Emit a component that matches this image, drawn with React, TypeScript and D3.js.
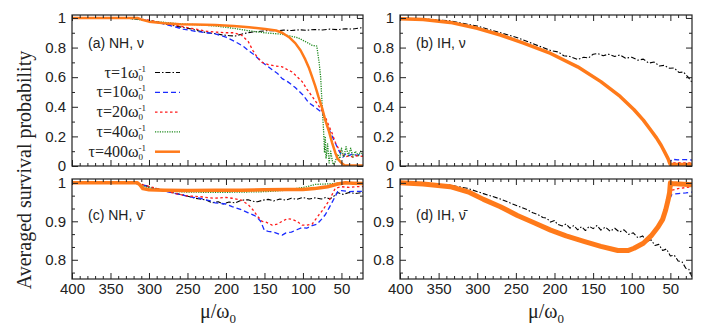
import { useEffect, useRef } from 'react';
import * as d3 from 'd3';

type Pt = [number, number];

// axis values
const xDomain = [400, 22];
const xTicks = [400, 350, 300, 250, 200, 150, 100, 50];
const xMinor = d3.range(30, 400, 10).filter(v => v % 50 !== 0);
const yTicksTop = [0, 0.2, 0.4, 0.6, 0.8, 1];
const yMinorTop = [0.1, 0.3, 0.5, 0.7, 0.9];
const yTicksBottom = [0.8, 0.9, 1];
const yMinorBottom = [0.7667, 0.8333, 0.8667, 0.9333, 0.9667];

const tauValues = ['1', '10', '20', '40', '400'];

// (a) NH, neutrinos  -- [mu/omega0, survival probability]
const aTau1: Pt[] = [[400, 1], [340, 1], [320, 0.995], [305, 0.985], [290, 0.97], [275, 0.955], [260, 0.94], [245, 0.925], [235, 0.912], [225, 0.9], [215, 0.895], [205, 0.886], [195, 0.88], [188, 0.878], [180, 0.89], [172, 0.9], [165, 0.905], [155, 0.91], [145, 0.915], [135, 0.913], [125, 0.918], [115, 0.915], [105, 0.92], [95, 0.917], [85, 0.922], [75, 0.919], [65, 0.925], [55, 0.921], [45, 0.927], [35, 0.925], [22, 0.935]];
const aTau10: Pt[] = [[400, 1], [330, 1], [315, 0.995], [300, 0.98], [285, 0.965], [270, 0.945], [256, 0.925], [240, 0.91], [225, 0.9], [214, 0.893], [200, 0.87], [188, 0.84], [178, 0.81], [171, 0.78], [163, 0.75], [155, 0.71], [149, 0.685], [140, 0.65], [133, 0.625], [127, 0.59], [120, 0.57], [110, 0.53], [100, 0.48], [93, 0.43], [85, 0.4], [75, 0.36], [67, 0.26], [62, 0.2], [58, 0.155], [52, 0.09], [48, 0.06], [44, 0.085], [40, 0.07], [35, 0.085], [30, 0.07], [25, 0.082], [22, 0.075]];
const aTau20: Pt[] = [[400, 1], [330, 1], [315, 0.995], [300, 0.985], [285, 0.97], [270, 0.955], [255, 0.94], [240, 0.925], [225, 0.91], [214, 0.905], [200, 0.9], [190, 0.9], [180, 0.885], [171, 0.84], [165, 0.78], [160, 0.74], [153, 0.7], [145, 0.685], [135, 0.675], [127, 0.67], [120, 0.65], [114, 0.635], [107, 0.6], [101, 0.57], [95, 0.52], [88, 0.47], [80, 0.41], [75, 0.37], [70, 0.32], [67, 0.28], [62, 0.22], [58, 0.16], [53, 0.11], [49, 0.08], [45, 0.06], [40, 0.07], [35, 0.06], [30, 0.07], [22, 0.065]];
const aTau40: Pt[] = [[400, 1], [330, 1], [315, 0.99], [300, 0.98], [280, 0.97], [260, 0.96], [240, 0.955], [214, 0.946], [190, 0.93], [171, 0.914], [150, 0.9], [127, 0.89], [106, 0.865], [93, 0.83], [88, 0.815], [82, 0.81], [79, 0.7], [77, 0.6], [75, 0.4], [73, 0.22], [72, 0.09], [71, 0.2], [70, 0.05], [68, 0.15], [66, 0.02], [64, 0.1], [61, 0.01], [58, 0.03], [55, 0.08], [52, 0.05], [50, 0.12], [47, 0.06], [44, 0.13], [41, 0.07], [38, 0.12], [35, 0.06], [32, 0.1], [28, 0.07], [25, 0.1], [22, 0.07]];
const aTau400: Pt[] = [[400, 1], [315, 1], [310, 0.99], [300, 0.975], [280, 0.965], [260, 0.958], [240, 0.955], [214, 0.952], [190, 0.945], [170, 0.937], [149, 0.926], [135, 0.915], [127, 0.9], [118, 0.87], [110, 0.83], [103, 0.78], [97, 0.72], [92, 0.66], [88, 0.6], [84, 0.54], [80, 0.47], [75, 0.39], [71, 0.31], [66, 0.23], [62, 0.155], [58, 0.09], [55, 0.05], [50, 0.02], [46, 0.005], [40, 0.003], [22, 0.003]];

// (b) IH, neutrinos
const bCommon: Pt[] = [[400, 0.995], [370, 0.99], [335, 0.97], [300, 0.93], [270, 0.885], [240, 0.83], [205, 0.76], [170, 0.67], [140, 0.57], [115, 0.47], [97, 0.38], [85, 0.31], [75, 0.24], [68, 0.19], [62, 0.14], [57, 0.09], [53, 0.05], [51, 0.02]];
const bTail10: Pt[] = [[50, 0.03], [48, 0.045], [40, 0.042], [30, 0.043], [22, 0.04]];
const bTail20: Pt[] = [[50, 0.02], [40, 0.022], [22, 0.02]];
const bTail40: Pt[] = [[50, 0.015], [22, 0.012]];
const bTail400: Pt[] = [[50, 0.01], [22, 0.01]];
const bTau1: Pt[] = [[400, 0.995], [360, 0.99], [335, 0.98], [300, 0.945], [270, 0.9], [250, 0.87], [230, 0.83], [215, 0.8], [205, 0.78], [195, 0.77], [188, 0.745], [180, 0.74], [170, 0.72], [162, 0.735], [156, 0.73], [150, 0.755], [144, 0.76], [137, 0.745], [130, 0.755], [122, 0.74], [115, 0.75], [108, 0.728], [100, 0.735], [92, 0.715], [85, 0.722], [78, 0.695], [71, 0.702], [64, 0.675], [58, 0.68], [51, 0.66], [45, 0.662], [39, 0.632], [33, 0.635], [27, 0.6], [22, 0.565]];

// (c) NH, antineutrinos
const cTau1: Pt[] = [[400, 1], [320, 1], [310, 0.997], [300, 0.99], [290, 0.985], [282, 0.981], [270, 0.975], [255, 0.968], [240, 0.96], [234, 0.958], [225, 0.955], [218, 0.948], [210, 0.951], [204, 0.945], [196, 0.95], [188, 0.948], [180, 0.955], [171, 0.956], [165, 0.952], [159, 0.951], [152, 0.955], [145, 0.957], [138, 0.953], [130, 0.958], [122, 0.955], [115, 0.96], [108, 0.957], [100, 0.962], [92, 0.958], [84, 0.961], [76, 0.958], [70, 0.962], [65, 0.958], [60, 0.965], [55, 0.975], [48, 0.97], [40, 0.975], [32, 0.972], [22, 0.975]];
const cTau10: Pt[] = [[400, 1], [320, 1], [308, 0.995], [295, 0.985], [277, 0.977], [260, 0.97], [245, 0.963], [234, 0.96], [220, 0.953], [214, 0.948], [200, 0.945], [192, 0.938], [180, 0.93], [171, 0.922], [161, 0.913], [155, 0.9], [150, 0.876], [145, 0.874], [138, 0.872], [130, 0.866], [127, 0.864], [122, 0.87], [115, 0.872], [108, 0.878], [101, 0.884], [95, 0.882], [88, 0.889], [82, 0.892], [76, 0.905], [71, 0.917], [66, 0.935], [62, 0.95], [58, 0.965], [55, 0.977], [50, 0.98], [40, 0.977], [30, 0.978], [22, 0.978]];
const cTau20: Pt[] = [[400, 1], [320, 1], [308, 0.995], [295, 0.988], [280, 0.98], [265, 0.972], [250, 0.966], [234, 0.964], [215, 0.96], [200, 0.962], [192, 0.96], [180, 0.955], [171, 0.943], [165, 0.93], [159, 0.913], [153, 0.9], [148, 0.898], [140, 0.89], [133, 0.893], [127, 0.9], [120, 0.907], [114, 0.905], [108, 0.9], [101, 0.89], [95, 0.89], [88, 0.893], [80, 0.915], [74, 0.93], [67, 0.951], [62, 0.97], [58, 0.986], [50, 0.99], [40, 0.988], [30, 0.99], [22, 0.99]];
const cTau40: Pt[] = [[400, 1], [320, 1], [305, 0.99], [290, 0.983], [270, 0.978], [250, 0.976], [214, 0.975], [180, 0.976], [150, 0.977], [127, 0.98], [106, 0.986], [95, 0.99], [84, 0.996], [70, 0.997], [62, 0.998], [50, 1.0], [22, 1.0]];
const cTau400: Pt[] = [[400, 1], [315, 1], [312, 0.995], [308, 0.985], [300, 0.982], [280, 0.981], [250, 0.98], [214, 0.981], [180, 0.981], [150, 0.982], [120, 0.983], [100, 0.983], [85, 0.985], [75, 0.988], [68, 0.99], [62, 0.993], [55, 0.997], [45, 1.0], [35, 0.999], [22, 0.998]];

// (d) IH, antineutrinos
const dCommon: Pt[] = [[400, 1], [370, 0.997], [335, 0.99], [310, 0.975], [292, 0.957], [270, 0.938], [248, 0.915], [225, 0.895], [205, 0.877], [185, 0.862], [162, 0.848], [140, 0.835], [118, 0.824], [105, 0.824], [97, 0.83], [85, 0.843], [75, 0.862], [66, 0.885], [60, 0.905], [56, 0.93], [53, 0.955], [51, 0.975]];
const dTail10: Pt[] = [[50, 0.962], [48, 0.97], [40, 0.972], [30, 0.974], [22, 0.976]];
const dTail20: Pt[] = [[50, 0.98], [40, 0.985], [22, 0.99]];
const dTail40: Pt[] = [[50, 0.99], [45, 0.995], [22, 0.995]];
const dTail400: Pt[] = [[50, 1.0], [48, 0.998], [22, 0.995]];
const dTau1: Pt[] = [[400, 1], [360, 0.998], [335, 0.994], [313, 0.986], [292, 0.972], [270, 0.958], [248, 0.94], [235, 0.93], [228, 0.922], [222, 0.918], [215, 0.91], [210, 0.908], [205, 0.898], [200, 0.902], [196, 0.892], [190, 0.888], [185, 0.893], [180, 0.882], [175, 0.889], [170, 0.878], [165, 0.886], [160, 0.876], [155, 0.887], [150, 0.881], [145, 0.889], [140, 0.877], [134, 0.885], [128, 0.874], [122, 0.882], [116, 0.872], [110, 0.878], [104, 0.866], [98, 0.87], [92, 0.857], [86, 0.862], [80, 0.848], [75, 0.852], [70, 0.837], [65, 0.84], [60, 0.824], [55, 0.828], [50, 0.81], [45, 0.812], [40, 0.797], [35, 0.795], [30, 0.778], [26, 0.775], [22, 0.755]];

const styles = [
    { color: '#000000', width: 1.1, dash: '5,2,1.5,2' },
    { color: '#1a2bff', width: 1.3, dash: '5,3' },
    { color: '#ff1a1a', width: 1.3, dash: '2.5,2.5' },
    { color: '#1f8a1f', width: 1.3, dash: '1.2,1.2' },
    { color: '#ff7a1a', width: 2.5, dash: null },
];

const panels = [
    { id: 'a', label: '(a) NH, \u03BD', left: 72, right: 363, top: 15, bottom: 166, yDomain: [0, 1.02], yTicks: yTicksTop, yMinor: yMinorTop, xLabels: false, band: 2.5,
      series: [aTau1, aTau10, aTau20, aTau40, aTau400] },
    { id: 'b', label: '(b) IH, \u03BD', left: 400, right: 692, top: 15, bottom: 166, yDomain: [0, 1.02], yTicks: yTicksTop, yMinor: yMinorTop, xLabels: false, band: 3.5,
      series: [bTau1, [...bCommon, ...bTail10], [...bCommon, ...bTail20], [...bCommon, ...bTail40], [...bCommon, ...bTail400]] },
    { id: 'c', label: '(c) NH, \u03BD\u0304', left: 72, right: 363, top: 179, bottom: 279, yDomain: [0.75, 1.01], yTicks: yTicksBottom, yMinor: yMinorBottom, xLabels: true, band: 3.5,
      series: [cTau1, cTau10, cTau20, cTau40, cTau400] },
    { id: 'd', label: '(d) IH, \u03BD\u0304', left: 400, right: 692, top: 179, bottom: 279, yDomain: [0.75, 1.01], yTicks: yTicksBottom, yMinor: yMinorBottom, xLabels: true, band: 5,
      series: [dTau1, [...dCommon, ...dTail10], [...dCommon, ...dTail20], [...dCommon, ...dTail40], [...dCommon, ...dTail400]] },
];

const sans = '"Liberation Sans", Arial, sans-serif';
const serif = '"Liberation Serif", "Times New Roman", serif';

const App = () => {
    const svgRef = useRef<SVGSVGElement>(null);

    useEffect(() => {
        const svg = d3.select(svgRef.current);
        svg.selectAll('*').remove();
        svg.attr('width', 706).attr('height', 332);
        svg.append('rect').attr('width', 706).attr('height', 332).attr('fill', 'white');

        panels.forEach(p => {
            const x = d3.scaleLinear().domain(xDomain).range([p.left, p.right]);
            const y = d3.scaleLinear().domain(p.yDomain).range([p.bottom, p.top]);
            const g = svg.append('g');

            const clipId = 'clip-' + p.id;
            g.append('clipPath').attr('id', clipId).append('rect')
                .attr('x', p.left).attr('y', p.top)
                .attr('width', p.right - p.left).attr('height', p.bottom - p.top);

            // curves
            const line = d3.line<Pt>().x(d => x(d[0])).y(d => y(d[1]));
            p.series.forEach((s, i) => {
                const st = styles[i];
                g.append('path')
                    .datum(s)
                    .attr('d', line)
                    .attr('fill', 'none')
                    .attr('stroke', st.color)
                    .attr('stroke-width', i === 4 ? p.band : st.width)
                    .attr('stroke-dasharray', st.dash)
                    .attr('stroke-linejoin', 'round')
                    .attr('clip-path', `url(#${clipId})`);
            });

            // ticks (inward, mirrored)
            const clean = (sel: any) => sel.select('.domain').remove();
            const bottomAxis = g.append('g')
                .attr('transform', `translate(0,${p.bottom})`)
                .call(d3.axisBottom(x).tickValues(xTicks).tickSize(-6).tickPadding(4)
                    .tickFormat(p.xLabels ? (d: any) => String(d) : () => ''))
                .call(clean);
            bottomAxis.selectAll('text').attr('font-family', sans).attr('font-size', 15).attr('fill', '#222');
            g.append('g').attr('transform', `translate(0,${p.bottom})`)
                .call(d3.axisBottom(x).tickValues(xMinor).tickSize(-3).tickFormat(() => '')).call(clean);
            g.append('g').attr('transform', `translate(0,${p.top})`)
                .call(d3.axisTop(x).tickValues(xTicks).tickSize(-6).tickFormat(() => '')).call(clean);
            g.append('g').attr('transform', `translate(0,${p.top})`)
                .call(d3.axisTop(x).tickValues(xMinor).tickSize(-3).tickFormat(() => '')).call(clean);

            const leftAxis = g.append('g')
                .attr('transform', `translate(${p.left},0)`)
                .call(d3.axisLeft(y).tickValues(p.yTicks).tickSize(-6).tickPadding(6).tickFormat((d: any) => String(d)))
                .call(clean);
            leftAxis.selectAll('text').attr('font-family', sans).attr('font-size', 15).attr('fill', '#222');
            g.append('g').attr('transform', `translate(${p.left},0)`)
                .call(d3.axisLeft(y).tickValues(p.yMinor).tickSize(-3).tickFormat(() => '')).call(clean);
            g.append('g').attr('transform', `translate(${p.right},0)`)
                .call(d3.axisRight(y).tickValues(p.yTicks).tickSize(-6).tickFormat(() => '')).call(clean);
            g.append('g').attr('transform', `translate(${p.right},0)`)
                .call(d3.axisRight(y).tickValues(p.yMinor).tickSize(-3).tickFormat(() => '')).call(clean);
            g.selectAll('.tick line').attr('stroke', '#222');

            // frame
            g.append('rect')
                .attr('x', p.left).attr('y', p.top)
                .attr('width', p.right - p.left).attr('height', p.bottom - p.top)
                .attr('fill', 'none').attr('stroke', '#222').attr('stroke-width', 1.2);

            // panel label
            g.append('text')
                .attr('x', p.left + 16)
                .attr('y', p.top + (p.top > 100 ? 41 : 33))
                .attr('font-family', sans).attr('font-size', 14).attr('fill', '#222')
                .text(p.label);
        });

        // legend in panel (a)
        const legend = svg.selectAll('.legend')
            .data(tauValues)
            .enter().append('g')
            .attr('class', 'legend')
            .attr('transform', (d, i) => `translate(0,${72.5 + i * 19.8})`);

        legend.append('line')
            .attr('x1', 155).attr('x2', 180)
            .attr('stroke', (d, i) => styles[i].color)
            .attr('stroke-width', (d, i) => styles[i].width)
            .attr('stroke-dasharray', (d, i) => styles[i].dash);

        // one text per entry: tau=..omega with stacked subscript 0 and superscript -1
        const lt = legend.append('text')
            .attr('x', 146).attr('y', 5)
            .attr('text-anchor', 'end')
            .attr('font-family', serif).attr('font-size', 16).attr('fill', '#222');
        lt.append('tspan').text(d => `\u03C4=${d}\u03C9`);
        lt.append('tspan').attr('font-size', 9).attr('dy', 3).text('0');
        lt.append('tspan').attr('font-size', 9).attr('dx', -4.5).attr('dy', -9).text('-1');

        // axis titles
        svg.append('text')
            .attr('transform', 'translate(31,170) rotate(-90)')
            .attr('text-anchor', 'middle')
            .attr('font-family', serif).attr('font-size', 20).attr('fill', '#222')
            .text('Averaged survival probability');

        [218, 546].forEach(cx => {
            const t = svg.append('text')
                .attr('x', cx).attr('y', 318)
                .attr('text-anchor', 'middle')
                .attr('font-family', serif).attr('font-size', 20).attr('fill', '#222');
            t.append('tspan').text('\u03BC/\u03C9');
            t.append('tspan').attr('font-size', 13).attr('dy', 5).text('0');
        });
    }, []);

    return (
        <svg ref={svgRef} style={{ position: 'absolute', left: 0, top: 0 }}></svg>
    );
};

export default App;
